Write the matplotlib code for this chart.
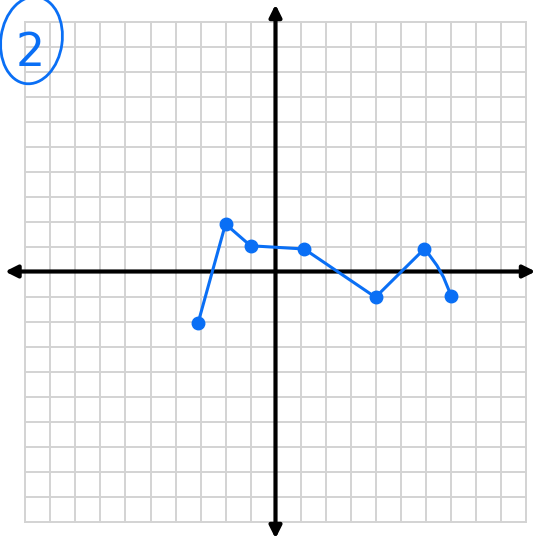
"""
Hand-drawn style piecewise graph on a coordinate grid (problem 2)
"""

import matplotlib
matplotlib.use("Agg")
import matplotlib.pyplot as plt
from matplotlib.patches import Ellipse, FancyArrowPatch, PathPatch
from matplotlib.path import Path

# grid runs from -10 to 10 on both axes
grid_ticks = list(range(-10, 11))

# points of the graph, left to right
xs = [-3.1, -2.0, -1.0, 1.15, 4.0, 5.95, 7.0]
ys = [-2.07, 1.9, 1.03, 0.9, -1.03, 0.9, -0.97]
# control point for the bent last piece
bend = (6.72, 0.05)

problem_label = "2"

BLUE = "#0a6ff5"
GRID = "#d3d3d3"

fig = plt.figure(figsize=(5.38, 5.41), dpi=100)
ax = fig.add_axes([0, 0, 1, 1])
ax.set_xlim(-11.02, 10.5)
ax.set_ylim(-10.78, 10.86)
ax.axis("off")

# grid
for t in grid_ticks:
	ax.plot([t, t], [-10, 10], color=GRID, lw=1.4, zorder=1)
	ax.plot([-10, 10], [t, t], color=GRID, lw=1.4, zorder=1)

# axes with arrows on both ends
for start, end in [((-10.82, 0), (10.4, 0)), ((0, -10.68), (0, 10.68))]:
	arr = FancyArrowPatch(start, end, arrowstyle="<|-|>", mutation_scale=18,
		color="black", lw=3, zorder=2, shrinkA=0, shrinkB=0)
	ax.add_patch(arr)

# straight pieces
ax.plot(xs[:-1], ys[:-1], color=BLUE, lw=2.2, zorder=3, solid_capstyle="round")
# curved last piece
verts = [(xs[-2], ys[-2]), bend, (xs[-1], ys[-1])]
curve = PathPatch(Path(verts, [Path.MOVETO, Path.CURVE3, Path.CURVE3]),
	facecolor="none", edgecolor=BLUE, lw=2.2, zorder=3)
ax.add_patch(curve)
ax.plot(xs, ys, "o", color=BLUE, markersize=9, zorder=4)

# circled problem number
ax.add_patch(Ellipse((-9.76, 9.25), 2.45, 3.5, angle=-8, fill=False,
	edgecolor=BLUE, lw=2.0, zorder=5))
ax.text(-9.82, 8.72, problem_label, color=BLUE, fontsize=33, ha="center",
	va="center", zorder=5)

plt.savefig("out.png", dpi=100)
